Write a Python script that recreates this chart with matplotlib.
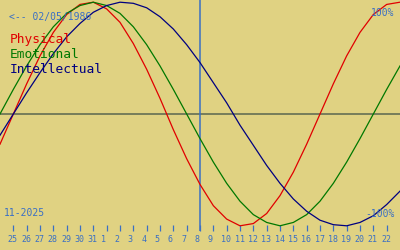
import matplotlib
matplotlib.use("Agg")
import matplotlib.pyplot as plt
from matplotlib.transforms import ScaledTranslation

# ---- data (one value per day, index 0 = 24 Oct 2025) ----
day_index = list(range(31))
physical = [-0.27, 0.00, 0.27, 0.52, 0.73, 0.89, 0.98, 1.00, 0.94, 0.82, 0.63,
            0.40, 0.14, -0.14, -0.40, -0.63, -0.82, -0.94, -1.00, -0.98, -0.89,
            -0.73, -0.52, -0.27, 0.00, 0.27, 0.52, 0.73, 0.89, 0.98, 1.00]
emotional = [0.00, 0.22, 0.43, 0.62, 0.78, 0.90, 0.97, 1.00, 0.97, 0.90, 0.78,
             0.62, 0.43, 0.22, 0.00, -0.22, -0.43, -0.62, -0.78, -0.90, -0.97,
             -1.00, -0.97, -0.90, -0.78, -0.62, -0.43, -0.22, 0.00, 0.22, 0.43]
intellectual = [-0.19, 0.00, 0.19, 0.37, 0.54, 0.69, 0.81, 0.91, 0.97, 1.00, 0.99,
                0.95, 0.87, 0.76, 0.62, 0.46, 0.28, 0.10, -0.10, -0.28, -0.46,
                -0.62, -0.76, -0.87, -0.95, -0.99, -1.00, -0.97, -0.91, -0.81, -0.69]
tick_index = list(range(1, 30))
tick_labels = ["25", "26", "27", "28", "29", "30", "31", "1", "2", "3", "4", "5",
               "6", "7", "8", "9", "10", "11", "12", "13", "14", "15", "16", "17",
               "18", "19", "20", "21", "22"]
today_index = 15
birth_text = "<-- 02/05/1986"
month_text = "11-2025"
series_names = ["Physical", "Emotional", "Intellectual"]

# ---- style ----
BG = "#e0d282"
BLUE = "#3a6fc4"
RED = "#e00000"
GREEN = "#007800"
NAVY = "#000080"
W, H = 400, 250
MONO = "DejaVu Sans Mono"

fig = plt.figure(figsize=(4, 2.5), dpi=100, facecolor=BG)
axes_bottom_px = 231
ax = fig.add_axes([0, (H - axes_bottom_px) / H, 1, axes_bottom_px / H])
ax.set_facecolor(BG)
for s in ax.spines.values():
    s.set_visible(False)

c, A = 114.0, 111.8
ax.set_xlim(0, 30)
ax.set_ylim((c - axes_bottom_px) / A, c / A)

ax.axhline(0, color="#5a6650", lw=1.1, zorder=1)
ax.axvline(today_index, color=BLUE, lw=1.1, zorder=1)

ax.plot(day_index, physical, color=RED, lw=0.9, zorder=3)
ax.plot(day_index, emotional, color=GREEN, lw=0.9, zorder=3)
ax.plot(day_index, intellectual, color=NAVY, lw=0.9, zorder=3)

ax.set_yticks([])
ax.set_xticks(tick_index)
ax.set_xticklabels(tick_labels, fontsize=6, family=MONO, color=BLUE)
ax.tick_params(axis="x", direction="in", length=4.3, width=0.9, color=BLUE,
               pad=3.0)
off = ScaledTranslation(-5.5 / 100, 0, fig.dpi_scale_trans)
for lab in ax.get_xticklabels():
    lab.set_horizontalalignment("left")
    lab.set_transform(lab.get_transform() + off)


def fx(x):
    return x / W


def fy(y):
    return 1 - y / H


fig.text(fx(9), fy(20), birth_text, fontsize=7, family=MONO, color=BLUE,
         va="baseline", ha="left")
for name, col, yb in zip(series_names, [RED, GREEN, NAVY], [43, 58, 73]):
    fig.text(fx(10), fy(yb), name, fontsize=9.3, family=MONO, color=col,
             va="baseline", ha="left")
fig.text(fx(394), fy(16), "100%", fontsize=7, family=MONO, color=BLUE,
         va="baseline", ha="right")
fig.text(fx(395), fy(217), "-100%", fontsize=7, family=MONO, color=BLUE,
         va="baseline", ha="right")
fig.text(fx(4), fy(216), month_text, fontsize=7, family=MONO, color=BLUE,
         va="baseline", ha="left")

fig.savefig("out.png", dpi=100, facecolor=BG)
